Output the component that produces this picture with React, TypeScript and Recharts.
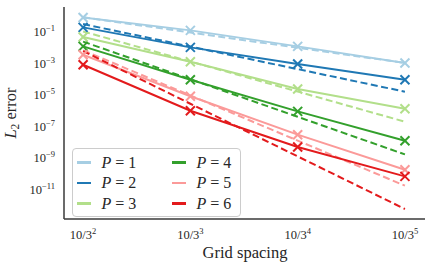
import React from "react";
import { LineChart, Line, XAxis, YAxis, Legend } from "recharts";

// grid spacing h = 10/3^k
const gridExponents = [2, 3, 4, 5];

// measured L2 errors (solid lines with x markers)
const errP1 = [0.77, 0.116, 0.0112, 9.9e-4];
const errP2 = [0.18, 9.7e-3, 8.5e-4, 8.6e-5];
const errP3 = [0.044, 1.19e-3, 2.21e-5, 1.24e-6];
const errP4 = [0.0112, 8.6e-5, 8.4e-7, 1.16e-8];
const errP5 = [3.3e-3, 7.7e-6, 2.8e-8, 1.68e-10];
const errP6 = [7.7e-4, 9.3e-7, 4.6e-9, 6.3e-11];

// reference convergence rates (dashed lines)
const refP1 = [0.785, 0.0851, 9.12e-3, 9.89e-4];
const refP2 = [0.293, 0.01086, 4.03e-4, 1.49e-5];
const refP3 = [0.0986, 1.22e-3, 1.51e-5, 1.86e-7];
const refP4 = [0.0225, 9.27e-5, 3.81e-7, 1.57e-9];
const refP5 = [6.3e-3, 8.63e-6, 1.18e-8, 1.62e-11];
const refP6 = [5.62e-3, 2.57e-6, 1.17e-9, 5.37e-13];

const yTicks = [1e-1, 1e-3, 1e-5, 1e-7, 1e-9, 1e-11];
const seriesLabels = ["1", "2", "3", "4", "5", "6"];
const colors = ["#a6cee3", "#1f78b4", "#b2df8a", "#33a02c", "#fb9a99", "#e31a1c"];

const errs = [errP1, errP2, errP3, errP4, errP5, errP6];
const refs = [refP1, refP2, refP3, refP4, refP5, refP6];

const data = gridExponents.map((k, i) => {
  const row: Record<string, number> = { k };
  errs.forEach((s, j) => (row[`e${j + 1}`] = s[i]));
  refs.forEach((s, j) => (row[`r${j + 1}`] = s[i]));
  return row;
});

const SERIF = "'Liberation Serif', 'DejaVu Serif', serif";
const TXT = "#262626";

const XTick = (props: any) => {
  const { x, y, payload } = props;
  return (
    <text x={x} y={y + 20} textAnchor="middle" fontFamily={SERIF} fontSize={12.5} fill={TXT}>
      10/3
      <tspan dy={-5} fontSize={8.5}>
        {payload.value}
      </tspan>
    </text>
  );
};

const YTick = (props: any) => {
  const { x, y, payload } = props;
  const e = Math.round(Math.log10(payload.value));
  return (
    <text x={x} y={y + 5} textAnchor="end" fontFamily={SERIF} fontSize={12.5} fill={TXT}>
      10
      <tspan dy={-5} fontSize={8.5}>
        {`\u2212${-e}`}
      </tspan>
    </text>
  );
};

const makeMarker = (color: string) => (props: any) => {
  const { cx, cy, index } = props;
  if (cx == null || cy == null) return <g key={index} />;
  const s = 4.5;
  return (
    <g key={`m-${index}`}>
      <line x1={cx - s} y1={cy - s} x2={cx + s} y2={cy + s} stroke={color} strokeWidth={2} />
      <line x1={cx - s} y1={cy + s} x2={cx + s} y2={cy - s} stroke={color} strokeWidth={2} />
    </g>
  );
};

const LegendBox = () => {
  const rows = [13.5, 34, 54.6];
  return (
    <div
      style={{
        position: "relative",
        width: 169,
        height: 69,
        boxSizing: "border-box",
        border: "1px solid #cccccc",
        borderRadius: 4,
        background: "rgba(255,255,255,0.8)",
      }}
    >
      {seriesLabels.map((lab, i) => {
        const col = Math.floor(i / 3);
        const row = i % 3;
        const hx = col === 0 ? 4 : 99;
        const tx = col === 0 ? 28.5 : 123.5;
        const cy = rows[row];
        return (
          <React.Fragment key={lab}>
            <div
              style={{
                position: "absolute",
                left: hx,
                top: cy - 1.25,
                width: 14,
                height: 2.5,
                background: colors[i],
              }}
            />
            <div
              style={{
                position: "absolute",
                left: tx,
                top: cy - 10,
                height: 20,
                lineHeight: "20px",
                fontFamily: SERIF,
                fontSize: 16,
                color: TXT,
                whiteSpace: "pre",
              }}
            >
              <i>P</i>
              <span style={{ margin: "0 4px" }}>=</span>
              {lab}
            </div>
          </React.Fragment>
        );
      })}
    </div>
  );
};

export default function App() {
  return (
    <div style={{ position: "absolute", left: 0, top: 0, width: 433, height: 267, background: "#fff" }}>
      <LineChart width={433} height={267} data={data} margin={{ top: 7, right: 8, bottom: 0, left: 0 }}>
        <XAxis
          dataKey="k"
          type="number"
          domain={[1.822, 5.187]}
          ticks={gridExponents}
          allowDataOverflow
          height={48}
          tickLine={false}
          tickSize={0}
          tickMargin={0}
          axisLine={{ stroke: "#3a3a3a", strokeWidth: 1.5 }}
          tick={<XTick />}
          interval={0}
          label={{
            content: () => (
              <text x={245} y={258} textAnchor="middle" fontFamily={SERIF} fontSize={16.5} fill={TXT}>
                Grid spacing
              </text>
            ),
          }}
        />
        <YAxis
          type="number"
          scale="log"
          domain={[1.25e-13, 3.53]}
          allowDataOverflow
          ticks={yTicks}
          interval={0}
          width={64}
          tickLine={false}
          tickSize={0}
          tickMargin={9}
          axisLine={{ stroke: "#3a3a3a", strokeWidth: 1.5 }}
          tick={<YTick />}
          label={{
            content: () => (
              <text
                x={16}
                y={113}
                transform="rotate(-90 16 113)"
                textAnchor="middle"
                fontFamily={SERIF}
                fontSize={16.5}
                fill={TXT}
              >
                <tspan fontStyle="italic">L</tspan>
                <tspan dy={3} fontSize={11.5}>2</tspan>
                <tspan dy={-3}> error</tspan>
              </text>
            ),
          }}
        />
        {colors.flatMap((c, j) => [
          <Line
            key={`e${j}`}
            dataKey={`e${j + 1}`}
            type="linear"
            stroke={c}
            strokeWidth={2}
            dot={makeMarker(c)}
            activeDot={false}
            isAnimationActive={false}
          />,
          <Line
            key={`r${j}`}
            dataKey={`r${j + 1}`}
            type="linear"
            stroke={c}
            strokeWidth={2}
            strokeDasharray="7 3.5"
            dot={false}
            activeDot={false}
            isAnimationActive={false}
          />,
        ])}
        <Legend
          layout="vertical"
          align="center"
          verticalAlign="middle"
          content={() => <LegendBox />}
          wrapperStyle={{ position: "absolute", left: 72, top: 148, width: 169, height: 69 }}
        />
      </LineChart>
    </div>
  );
}
